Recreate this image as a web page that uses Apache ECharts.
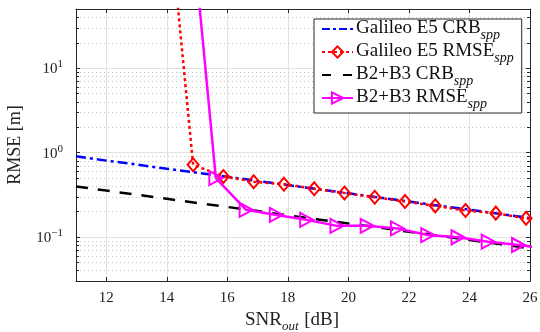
<!DOCTYPE html>
<html>
<head>
<meta charset="utf-8">
<script src="https://cdn.jsdelivr.net/npm/echarts@6/dist/echarts.min.js"></script>
<style>
  html, body { margin: 0; padding: 0; background: #fff; }
  #chart { width: 540px; height: 332px; }
</style>
</head>
<body>
<div id="chart"></div>
<script>
// ---- data ----
const crbX = [11, 12, 13, 14, 15, 16, 17, 18, 19, 20, 21, 22, 23, 24, 25, 26];
const galileoCrb = [0.90, 0.80, 0.72, 0.64, 0.575, 0.515, 0.46, 0.41, 0.367, 0.328, 0.293, 0.262, 0.234, 0.21, 0.187, 0.167];
const b2b3Crb = [0.395, 0.353, 0.316, 0.282, 0.252, 0.226, 0.202, 0.180, 0.161, 0.144, 0.129, 0.115, 0.103, 0.092, 0.082, 0.073];

const galileoRmseX = [13.87, 14.87, 15.87, 16.87, 17.87, 18.87, 19.87, 20.87, 21.87, 22.87, 23.87, 24.87, 25.87, 26.87];
const galileoRmse = [3700, 0.714, 0.519, 0.45, 0.421, 0.371, 0.330, 0.295, 0.262, 0.233, 0.205, 0.191, 0.166, 0.148];

const b2b3RmseX = [14.62, 15.62, 16.62, 17.62, 18.62, 19.62, 20.62, 21.62, 22.62, 23.62, 24.62, 25.62, 26.62];
const b2b3Rmse = [3000, 0.497, 0.209, 0.182, 0.159, 0.135, 0.135, 0.126, 0.105, 0.099, 0.0877, 0.080, 0.072];

const seriesNames = ['Galileo E5 CRB', 'Galileo E5 RMSE', 'B2+B3 CRB', 'B2+B3 RMSE'];
const legendSub = 'spp';

const xRange = [11, 26];
const yRange = [0.03, 50];
const xTickLabels = ['12', '14', '16', '18', '20', '22', '24', '26'];
const yTickValues = [0.1, 1, 10];
const yTickLabels = ['{b|10}{p|\u22121}', '{b|10}{p|0}', '{b|10}{p|1}'];
const yMinorValues = [0.04, 0.05, 0.06, 0.07, 0.08, 0.09,
  0.2, 0.3, 0.4, 0.5, 0.6, 0.7, 0.8, 0.9,
  2, 3, 4, 5, 6, 7, 8, 9, 20, 30, 40];

// ---- chart ----
const FONT = 'Liberation Serif';
const AXIS_COLOR = '#262626';
const chart = echarts.init(document.getElementById('chart'), null, { renderer: 'canvas' });

function pairs(xs, ys) { return xs.map((x, i) => [x, ys[i]]); }

const option = {
  backgroundColor: '#fff',
  animation: false,
  grid: { left: 76, top: 9, width: 454, height: 272, containLabel: false, outerBoundsMode: 'none' },
  legend: {
    data: [
      { name: seriesNames[0], itemStyle: { opacity: 0 }, lineStyle: { type: [8, 3, 3, 3] } },
      { name: seriesNames[1], lineStyle: { type: [3, 3] } },
      { name: seriesNames[2], itemStyle: { opacity: 0 }, lineStyle: { type: [9, 12] } },
      { name: seriesNames[3] }
    ],
    orient: 'vertical',
    left: 314,
    top: 19,
    itemWidth: 31,
    itemHeight: 14,
    itemGap: 0,
    padding: [0, 8, 2, 7],
    backgroundColor: '#fff',
    borderColor: AXIS_COLOR,
    borderWidth: 1,
    formatter: name => '{a|' + name + '}{s|' + legendSub + '}',
    textStyle: {
      fontFamily: FONT,
      color: '#000',
      padding: [0, 0, 0, -2],
      rich: {
        a: { fontFamily: FONT, fontSize: 19, color: '#111', lineHeight: 18, verticalAlign: 'bottom' },
        s: { fontFamily: FONT, fontSize: 14, fontStyle: 'italic', color: '#111', lineHeight: 13, verticalAlign: 'bottom', padding: [0, 0, -4, 0] }
      }
    }
  },
  xAxis: [{
    type: 'value',
    min: xRange[0], max: xRange[1],
    splitNumber: 7,
    name: '{a|SNR}{s|out}{a| [dB]}',
    nameLocation: 'middle',
    nameGap: 30,
    nameTextStyle: {
      padding: [0, 22, 0, 0],
      rich: {
        a: { fontFamily: FONT, fontSize: 19, color: '#222', verticalAlign: 'top' },
        s: { fontFamily: FONT, fontSize: 13, fontStyle: 'italic', color: '#222', verticalAlign: 'top', padding: [9, 1, 0, 0] }
      }
    },
    axisLine: { show: true, onZero: false, lineStyle: { color: AXIS_COLOR, width: 1 } },
    axisTick: { show: true, inside: true, length: 4, lineStyle: { color: AXIS_COLOR } },
    axisLabel: {
      showMinLabel: false,
      margin: 10,
      fontFamily: FONT, fontSize: 15, color: '#222',
      formatter: v => (xTickLabels.indexOf(String(v)) >= 0 ? String(v) : '')
    },
    splitLine: { show: true, lineStyle: { color: '#e2e2e2', width: 1 } }
  }, {
    type: 'value',
    position: 'top',
    min: xRange[0], max: xRange[1],
    splitNumber: 7,
    axisLine: { show: true, onZero: false, lineStyle: { color: AXIS_COLOR, width: 1 } },
    axisTick: { show: true, inside: true, length: 4, lineStyle: { color: AXIS_COLOR } },
    axisLabel: { show: false },
    splitLine: { show: false }
  }],
  yAxis: [{
    type: 'log',
    logBase: 10,
    min: yRange[0], max: yRange[1],
    name: 'RMSE [m]',
    nameLocation: 'middle',
    nameGap: 52,
    nameTextStyle: { fontFamily: FONT, fontSize: 18, color: '#222' },
    axisLine: { show: true, onZero: false, lineStyle: { color: AXIS_COLOR, width: 1 } },
    axisTick: { show: true, inside: true, length: 4, lineStyle: { color: AXIS_COLOR } },
    axisLabel: {
      margin: 13,
      formatter: v => {
        for (let i = 0; i < yTickValues.length; i++) {
          if (Math.abs(v - yTickValues[i]) < yTickValues[i] * 1e-6) return yTickLabels[i];
        }
        return '';
      },
      rich: {
        b: { fontFamily: FONT, fontSize: 15, color: '#222', verticalAlign: 'bottom', lineHeight: 18 },
        p: { fontFamily: FONT, fontSize: 11, color: '#222', verticalAlign: 'top', lineHeight: 12, padding: [0, 0, 6, 0] }
      }
    },
    splitLine: { show: true, lineStyle: { color: '#e2e2e2', width: 1 } }
  }, {
    type: 'log',
    logBase: 10,
    position: 'right',
    min: yRange[0], max: yRange[1],
    axisLine: { show: true, onZero: false, lineStyle: { color: AXIS_COLOR, width: 1 } },
    axisTick: { show: true, inside: true, length: 4, lineStyle: { color: AXIS_COLOR } },
    axisLabel: { show: false },
    splitLine: { show: false }
  }],
  series: [
    {
      name: 'minor',
      type: 'custom',
      z: 1,
      silent: true,
      xAxisIndex: 0, yAxisIndex: 0,
      data: yMinorValues.map(v => [xRange[0], v]),
      renderItem: (params, api) => {
        const v = api.value(1);
        const p1 = api.coord([xRange[0], v]);
        const p2 = api.coord([xRange[1], v]);
        const y = Math.round(p1[1]) + 0.5;
        return {
          type: 'group',
          children: [
            { type: 'line', shape: { x1: p1[0], y1: y, x2: p2[0], y2: y },
              style: { stroke: '#c4c4c4', lineWidth: 1, lineDash: [1, 3] } },
            { type: 'line', shape: { x1: p1[0], y1: y, x2: p1[0] + 3, y2: y },
              style: { stroke: AXIS_COLOR, lineWidth: 1 } },
            { type: 'line', shape: { x1: p2[0] - 3, y1: y, x2: p2[0], y2: y },
              style: { stroke: AXIS_COLOR, lineWidth: 1 } }
          ]
        };
      }
    },
    {
      name: seriesNames[0],
      type: 'line',
      z: 3,
      data: pairs(crbX, galileoCrb),
      symbol: 'none',
      clip: true,
      lineStyle: { color: '#0000ff', width: 2.5, type: [10, 4, 3, 4] },
      itemStyle: { color: '#0000ff' }
    },
    {
      name: seriesNames[1],
      type: 'line',
      z: 4,
      data: pairs(galileoRmseX, galileoRmse),
      symbol: 'diamond',
      symbolSize: [11, 13],
      showAllSymbol: true,
      clip: true,
      lineStyle: { color: '#ff0000', width: 2.5, type: [3, 3] },
      itemStyle: { color: 'rgba(255,255,255,0)', borderColor: '#ff0000', borderWidth: 2 }
    },
    {
      name: seriesNames[2],
      type: 'line',
      z: 5,
      data: pairs(crbX, b2b3Crb),
      symbol: 'none',
      clip: true,
      lineStyle: { color: '#000000', width: 2.5, type: [12, 10] },
      itemStyle: { color: '#000000' }
    },
    {
      name: seriesNames[3],
      type: 'line',
      z: 6,
      data: pairs(b2b3RmseX, b2b3Rmse),
      symbol: 'triangle',
      symbolSize: [14, 13],
      symbolRotate: -90,
      showAllSymbol: true,
      clip: true,
      lineStyle: { color: '#ff00ff', width: 2.5, type: 'solid' },
      itemStyle: { color: 'rgba(255,255,255,0)', borderColor: '#ff00ff', borderWidth: 2 }
    }
  ]
};
chart.setOption(option);
</script>
</body>
</html>
